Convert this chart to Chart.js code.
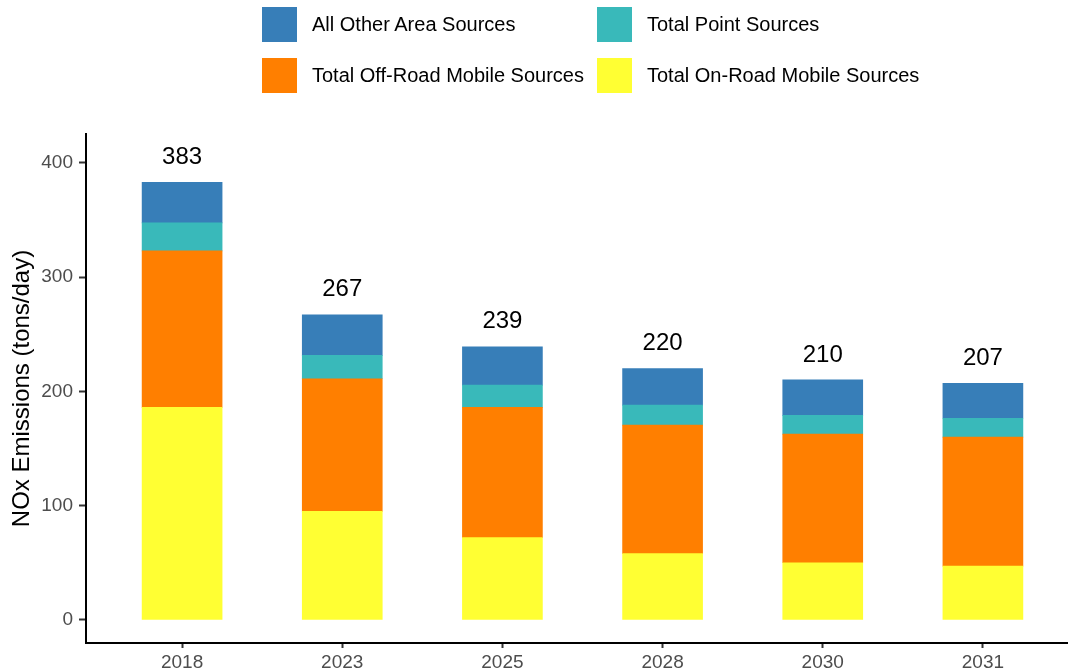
<!DOCTYPE html>
<html>
<head>
<meta charset="utf-8">
<title>NOx Emissions by Source Category</title>
<script src="https://cdn.jsdelivr.net/npm/chart.js@4.4.1/dist/chart.umd.min.js"></script>
<style>
    html, body { margin: 0; padding: 0; background: #fff; overflow: hidden; }
    #wrap { position: relative; width: 1068px; height: 672px; overflow: hidden; }
    #emissions-chart { position: absolute; left: 0; top: 0; }
    #legend {
        position: absolute; left: 262px; top: 7px;
        display: grid; grid-template-columns: 335px 335px; row-gap: 16px;
        font: 20px 'Liberation Sans', Arial, sans-serif; color: #000;
    }
    .legend-item { display: flex; align-items: center; height: 35px; white-space: nowrap; }
    .legend-item .swatch { width: 35px; height: 35px; margin-right: 15px; flex: none; }
</style>
</head>
<body>
<div id="wrap">
    <canvas id="emissions-chart" width="1090" height="672"></canvas>
    <div id="legend"></div>
</div>
<script>
// tons/day by year, bottom of the stack first
const years = ['2018', '2023', '2025', '2028', '2030', '2031']
const onRoad = [186, 95, 72, 58, 50, 47]
const offRoad = [137, 116, 114, 112.5, 112.5, 113]
const pointSources = [24.5, 20.5, 19.5, 17.5, 16.5, 16.5]
const otherArea = [35.5, 35.5, 33.5, 32, 31, 30.5]
const yTicks = [0, 100, 200, 300, 400]

const FONT = "'Liberation Sans', Arial, sans-serif"
Chart.defaults.font.family = FONT

function series(values) {
    return years.map((yr, i) => ({x: i, y: values[i]}))
}

// stack totals written above each bar
const totalLabels = {
    id: 'totalLabels',
    afterDatasetsDraw(chart) {
        const {ctx} = chart
        const xs = chart.scales.x, ys = chart.scales.y
        ctx.save()
        ctx.font = '24px ' + FONT
        ctx.fillStyle = '#000'
        ctx.textAlign = 'center'
        ctx.textBaseline = 'middle'
        years.forEach((yr, i) => {
            let total = chart.data.datasets.reduce((s, ds) => s + ds.data[i].y, 0)
            ctx.fillText(Math.round(total), xs.getPixelForValue(i), ys.getPixelForValue(total) - 25)
        })
        ctx.restore()
    }
}

let chart = new Chart(document.getElementById('emissions-chart'), {
    type: 'bar',
    data: {
        datasets: [
            {label: 'Total On-Road Mobile Sources', data: series(onRoad), backgroundColor: '#FFFF33'},
            {label: 'Total Off-Road Mobile Sources', data: series(offRoad), backgroundColor: '#FF7F00'},
            {label: 'Total Point Sources', data: series(pointSources), backgroundColor: '#39B9BA'},
            {label: 'All Other Area Sources', data: series(otherArea), backgroundColor: '#377EB8'}
        ]
    },
    options: {
        responsive: false,
        animation: false,
        barThickness: 80,
        borderWidth: 0,
        layout: {padding: {top: 134, right: 11, left: 0, bottom: 0}},
        plugins: {legend: {display: false}, tooltip: {enabled: false}},
        scales: {
            x: {
                type: 'linear', min: -0.6, max: 5.6, stacked: true, offset: false,
                afterBuildTicks: s => { s.ticks = years.map((yr, i) => ({value: i})) },
                afterFit: s => { s.height = 29 },
                ticks: {color: '#4d4d4d', font: {size: 19}, padding: 3, maxRotation: 0, autoSkip: false,
                    callback: v => years[v]},
                grid: {offset: false, drawOnChartArea: false, tickLength: 5, tickColor: '#333', tickWidth: 2},
                border: {display: true, color: '#000', width: 2}
            },
            y: {
                min: -20.25, max: 425.25, stacked: true,
                afterBuildTicks: s => { s.ticks = yTicks.map(v => ({value: v})) },
                afterFit: s => { s.width = 86 },
                title: {display: true, text: 'NOx Emissions (tons/day)', color: '#000',
                    font: {size: 24}, padding: {top: 8, bottom: 0}},
                ticks: {color: '#4d4d4d', font: {size: 19}, padding: 6},
                grid: {drawOnChartArea: false, tickLength: 7, tickColor: '#333', tickWidth: 2},
                border: {display: true, color: '#000', width: 2}
            }
        }
    },
    plugins: [totalLabels]
})

// legend: top layer of the stack first, two per row
let legend = document.getElementById('legend')
chart.data.datasets.slice().reverse().forEach(ds => {
    let item = document.createElement('div')
    item.className = 'legend-item'
    let swatch = document.createElement('span')
    swatch.className = 'swatch'
    swatch.style.background = ds.backgroundColor
    let label = document.createElement('span')
    label.textContent = ds.label
    item.appendChild(swatch)
    item.appendChild(label)
    legend.appendChild(item)
})
</script>
</body>
</html>
